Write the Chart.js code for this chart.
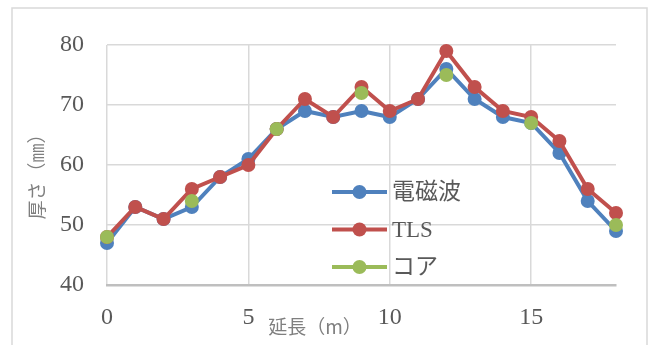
<!DOCTYPE html>
<html>
<head>
<meta charset="utf-8">
<script src="https://cdn.jsdelivr.net/npm/chart.js@4.4.1/dist/chart.umd.min.js"></script>
<style>
  html, body { margin: 0; padding: 0; background: #fff; }
  #wrap { width: 653px; height: 345px; }
</style>
</head>
<body>
<div id="wrap"><canvas id="chart" width="653" height="345"></canvas></div>
<script>
// Distance along the section (m)
const distance = [0, 1, 2, 3, 4, 5, 6, 7, 8, 9, 10, 11, 12, 13, 14, 15, 16, 17, 18];
// Thickness (mm) by method
const emWave = [47, 53, 51, 53, 58, 61, 66, 69, 68, 69, 68, 71, 76, 71, 68, 67, 62, 54, 49];
const tls    = [48, 53, 51, 56, 58, 60, 66, 71, 68, 73, 69, 71, 79, 73, 69, 68, 64, 56, 52];
const core   = [48, null, null, 54, null, null, 66, null, null, 72, null, null, 75, null, null, 67, null, null, 50];
const seriesNames = ['電磁波', 'TLS', 'コア'];
// Axis ticks and captions
const xTickValues = [0, 5, 10, 15];
const yTickValues = [40, 50, 60, 70, 80];
const xTitle = '延長（m）';
const yTitle = '厚さ（㎜）';

const toPoints = arr => distance.map((d, i) => ({ x: d, y: arr[i] }));

const SERIF = "'Liberation Serif', 'DejaVu Serif', 'Noto Sans CJK JP', serif";
const CJK = "'Noto Sans CJK JP', 'Liberation Serif', sans-serif";

// White background and light outer frame
const framePlugin = {
  id: 'frame',
  beforeDraw(chart, args, o) {
    const ctx = chart.ctx;
    ctx.save();
    ctx.fillStyle = '#ffffff';
    ctx.fillRect(0, 0, chart.width, chart.height);
    ctx.strokeStyle = o.color;
    ctx.lineWidth = o.width;
    ctx.strokeRect(o.left, o.top, chart.width - o.left - o.right, chart.height - o.top + 10);
    ctx.restore();
  }
};

// Axis captions placed freely around the plot
const captionPlugin = {
  id: 'captions',
  afterDraw(chart, args, o) {
    const ctx = chart.ctx;
    ctx.save();
    ctx.fillStyle = o.color;
    ctx.font = o.font;
    ctx.textAlign = 'center';
    ctx.textBaseline = 'middle';
    ctx.fillText(xTitle, o.xPos[0], o.xPos[1]);
    ctx.translate(o.yPos[0], o.yPos[1]);
    ctx.rotate(-Math.PI / 2);
    ctx.fillText(yTitle, 0, 0);
    ctx.restore();
  }
};

// Legend drawn inside the plot area
const insetLegendPlugin = {
  id: 'insetLegend',
  afterDraw(chart, args, o) {
    const ctx = chart.ctx;
    ctx.save();
    chart.data.datasets.forEach((ds, i) => {
      const y = o.y + i * o.rowGap;
      ctx.strokeStyle = ds.borderColor;
      ctx.lineWidth = o.lineWidth;
      ctx.beginPath();
      ctx.moveTo(o.x, y);
      ctx.lineTo(o.x + o.lineLength, y);
      ctx.stroke();
      ctx.fillStyle = ds.backgroundColor;
      ctx.beginPath();
      ctx.arc(o.x + o.lineLength / 2, y, o.radius, 0, Math.PI * 2);
      ctx.fill();
      ctx.fillStyle = o.color;
      ctx.font = o.font;
      ctx.textAlign = 'left';
      ctx.textBaseline = 'middle';
      ctx.fillText(ds.label, o.x + o.lineLength + o.gap, y + 1);
    });
    ctx.restore();
  }
};

const lineStyle = (color, order) => ({
  borderColor: color,
  backgroundColor: color,
  pointBackgroundColor: color,
  pointBorderColor: color,
  borderWidth: 4,
  pointRadius: 7,
  pointHoverRadius: 7,
  pointBorderWidth: 0,
  tension: 0,
  spanGaps: false,
  clip: false,
  order: order
});

new Chart(document.getElementById('chart'), {
  type: 'line',
  data: {
    datasets: [
      Object.assign({ label: seriesNames[0], data: toPoints(emWave) }, lineStyle('#4F81BD', 2)),
      Object.assign({ label: seriesNames[1], data: toPoints(tls) }, lineStyle('#C0504D', 1)),
      Object.assign({ label: seriesNames[2], data: toPoints(core) }, lineStyle('#9BBB59', 0))
    ]
  },
  options: {
    responsive: false,
    animation: false,
    devicePixelRatio: 1,
    layout: { padding: { left: 0, top: 45, right: 37, bottom: 0 } },
    plugins: {
      legend: { display: false },
      tooltip: { enabled: false },
      frame: { color: '#D9D9D9', width: 1.5, left: 12, top: 8, right: 6 },
      captions: { color: '#7F7F7F', font: "19px " + CJK, xPos: [315, 327], yPos: [37, 172] },
      insetLegend: { x: 332, y: 192, rowGap: 37.5, lineLength: 55, lineWidth: 4, radius: 7, gap: 5,
                     color: '#595959', font: "23px " + SERIF }
    },
    scales: {
      x: {
        type: 'linear',
        min: 0,
        max: 18,
        afterFit(scale) { scale.height = 60; },
        afterBuildTicks(scale) { scale.ticks = xTickValues.map(v => ({ value: v })); },
        grid: { color: '#D9D9D9', lineWidth: 1.5, drawTicks: false },
        border: { display: true, color: '#BFBFBF', width: 2.5 },
        ticks: { padding: 18, color: '#595959', font: { family: SERIF, size: 24 }, maxRotation: 0 }
      },
      y: {
        min: 40,
        max: 80,
        afterFit(scale) { scale.width = 107; },
        afterBuildTicks(scale) { scale.ticks = yTickValues.map(v => ({ value: v })); },
        grid: { color: '#D9D9D9', lineWidth: 1.5, drawTicks: false },
        border: { display: false },
        ticks: { padding: 23, color: '#595959', font: { family: SERIF, size: 24 } }
      }
    }
  },
  plugins: [framePlugin, captionPlugin, insetLegendPlugin]
});
</script>
</body>
</html>
